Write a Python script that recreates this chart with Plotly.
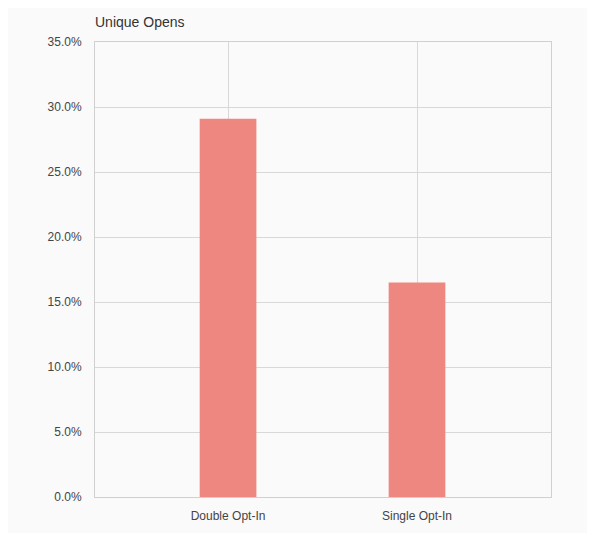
import plotly.graph_objects as go

categories = ["Double Opt-In", "Single Opt-In"]
values = [29.1, 16.5]
tick_vals = [0, 5, 10, 15, 20, 25, 30, 35]
tick_text = ["0.0%", "5.0%", "10.0%", "15.0%", "20.0%", "25.0%", "30.0%", "35.0%"]

fig = go.Figure(go.Bar(x=[0, 1], y=values, width=0.3, marker_color="#ee8780",
                       marker_line_width=0))
fig.update_layout(
    width=595, height=533,
    margin=dict(l=87, r=52, t=34, b=44),
    paper_bgcolor="#fafafa", plot_bgcolor="#fafafa",
    font=dict(family="Liberation Sans, Arial", size=12, color="#444"),
    title=dict(text="Unique Opens", x=87/595, xanchor="left", y=1-14/533, yanchor="middle",
               font=dict(size=14, color="#333")),
    xaxis=dict(range=[-0.704, 1.709], tickvals=[0, 1], ticktext=categories,
               showgrid=True, gridcolor="#d8d8d8", showline=True, linecolor="#d0d0d0",
               mirror=True, zeroline=False, ticks="", ticklabelstandoff=8),
    yaxis=dict(range=[0, 35], tickvals=tick_vals, ticktext=tick_text,
               showgrid=True, gridcolor="#d8d8d8", showline=True, linecolor="#d0d0d0",
               mirror=True, zeroline=False, ticks="", ticklabelstandoff=10),
    showlegend=False,
)
fig.write_html("out.html")
